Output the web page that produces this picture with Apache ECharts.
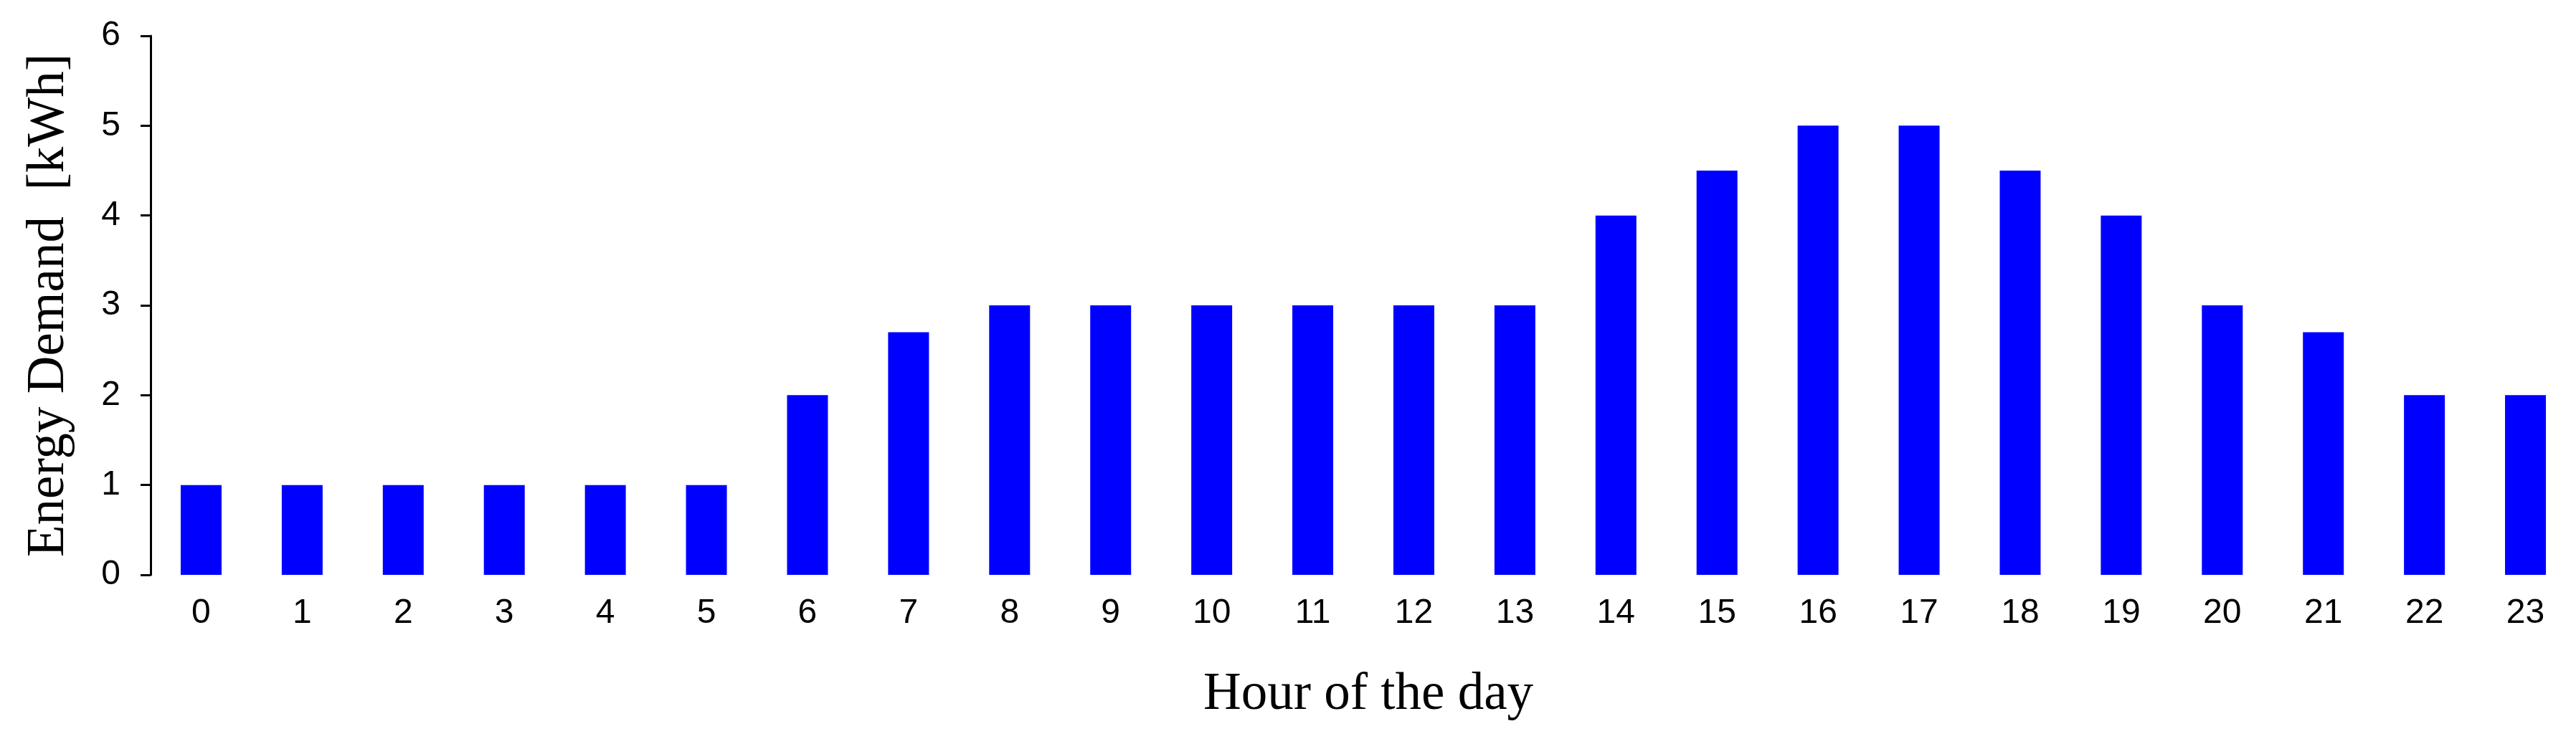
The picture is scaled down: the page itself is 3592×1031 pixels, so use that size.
<!DOCTYPE html>
<html>
<head>
<meta charset="utf-8">
<script src="https://cdn.jsdelivr.net/npm/echarts@6/dist/echarts.min.js"></script>
<style>
  html, body { margin: 0; padding: 0; background: #fff; }
  #myChart { width: 3592px; height: 1031px; }
</style>
</head>
<body>
<div id="myChart"></div>
<script>
// data
const hours = ['0', '1', '2', '3', '4', '5', '6', '7', '8', '9', '10', '11',
  '12', '13', '14', '15', '16', '17', '18', '19', '20', '21', '22', '23'];
const demand = [1, 1, 1, 1, 1, 1, 2, 2.7, 3, 3, 3, 3,
  3, 3, 4, 4.5, 5, 5, 4.5, 4, 3, 2.7, 2, 2];
const yTicks = [0, 1, 2, 3, 4, 5, 6];

const myChart = echarts.init(document.getElementById('myChart'));

const option = {
  backgroundColor: '#fff',
  animation: false,
  grid: {
    left: 210,
    top: 50,
    width: 3392,
    bottom: 229
  },
  xAxis: {
    type: 'category',
    data: hours,
    name: 'Hour of the day',
    nameLocation: 'middle',
    nameGap: 131,
    nameTextStyle: {
      fontFamily: 'Liberation Serif',
      fontSize: 73,
      color: '#000',
      padding: [0, 0, 0, 14]
    },
    axisLine: { show: false },
    axisTick: { show: false },
    axisLabel: {
      fontFamily: 'Liberation Sans',
      fontSize: 48,
      color: '#000',
      margin: 30
    }
  },
  yAxis: {
    type: 'value',
    min: yTicks[0],
    max: yTicks[yTicks.length - 1],
    interval: 1,
    name: 'Energy Demand  [kWh]',
    nameLocation: 'middle',
    nameGap: 105,
    nameTextStyle: {
      fontFamily: 'Liberation Serif',
      fontSize: 73,
      color: '#000'
    },
    splitLine: { show: false },
    axisLine: { show: true, lineStyle: { color: '#000', width: 3 } },
    axisTick: { show: true, length: 14, lineStyle: { color: '#000', width: 3 } },
    axisLabel: {
      fontFamily: 'Liberation Sans',
      fontSize: 48,
      color: '#000',
      margin: 42
    }
  },
  series: [{
    name: 'demand',
    type: 'bar',
    data: demand,
    barWidth: 57,
    itemStyle: { color: '#0000ff' }
  }]
};

myChart.setOption(option);
</script>
</body>
</html>
